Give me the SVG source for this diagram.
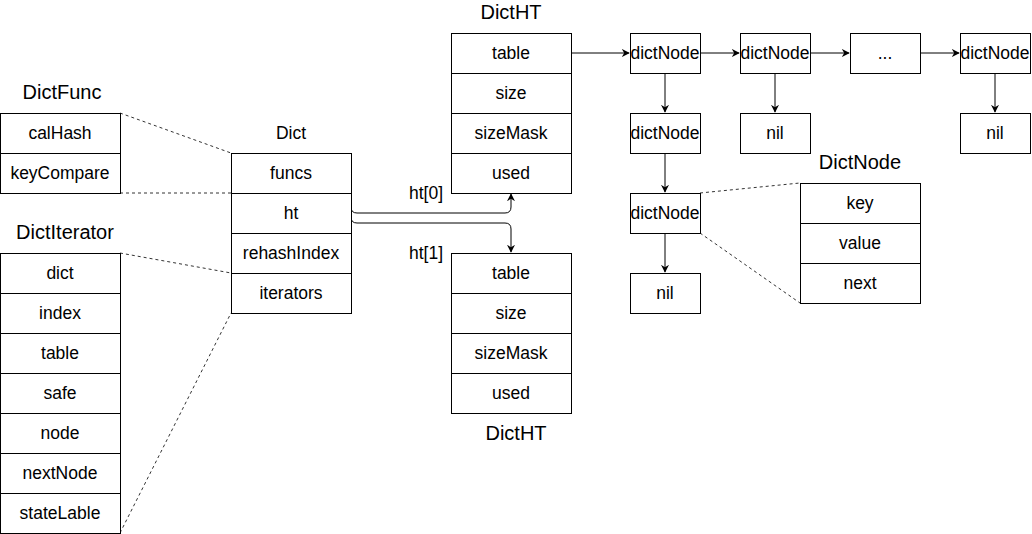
<svg xmlns="http://www.w3.org/2000/svg" width="1032" height="534" viewBox="0 0 1032 534">
<defs>
<style>
text{font-family:"Liberation Sans",Arial,sans-serif;fill:#000;text-anchor:middle;dominant-baseline:central}
.c{font-size:17.5px}
.t{font-size:20px}
.b{fill:#fff;stroke:#000;stroke-width:1}
.e{fill:none;stroke:#000;stroke-width:1}
.d{fill:none;stroke:#333;stroke-width:1;stroke-dasharray:3 3}
</style>
<marker id="a" viewBox="0 0 10 10" refX="9" refY="5" markerWidth="8" markerHeight="8" markerUnits="userSpaceOnUse" orient="auto">
<path d="M0,0 L10,5 L0,10 L3,5 Z" fill="#000"/>
</marker>
</defs>
<rect width="1032" height="534" fill="#fff"/>
<g id="connectors">
<path class="d" d="M120,113 L231,153"/>
<path class="d" d="M120,193 L231,193"/>
<path class="d" d="M120,253 L231,273"/>
<path class="d" d="M120,533 L231,313"/>
<path class="d" d="M700,193 L800,183"/>
<path class="d" d="M700,233 L800,303"/>
<path class="e" d="M351,207 Q351,213 357,213 L505,213 Q511,213 511,207 L511,194" marker-end="url(#a)"/>
<path class="e" d="M351,217 Q351,223 357,223 L505,223 Q511,223 511,229 L511,252" marker-end="url(#a)"/>
<path class="e" d="M571,53 L629,53" marker-end="url(#a)"/>
<path class="e" d="M700,53 L739,53" marker-end="url(#a)"/>
<path class="e" d="M810,53 L849,53" marker-end="url(#a)"/>
<path class="e" d="M920,53 L959,53" marker-end="url(#a)"/>
<path class="e" d="M665,73 L665,112" marker-end="url(#a)"/>
<path class="e" d="M775,73 L775,112" marker-end="url(#a)"/>
<path class="e" d="M995,73 L995,112" marker-end="url(#a)"/>
<path class="e" d="M665,153 L665,192" marker-end="url(#a)"/>
<path class="e" d="M665,233 L665,272" marker-end="url(#a)"/>
<text class="c" x="426" y="193">ht[0]</text>
<text class="c" x="426" y="253">ht[1]</text>
</g>
<g id="dictfunc">
<text class="t" x="62" y="92">DictFunc</text>
<rect class="b" x="0.5" y="113.5" width="120" height="40"/><text class="c" x="60" y="133">calHash</text>
<rect class="b" x="0.5" y="153.5" width="120" height="40"/><text class="c" x="60" y="173">keyCompare</text>
</g>
<g id="dict">
<text class="c" x="291" y="133">Dict</text>
<rect class="b" x="231.5" y="153.5" width="120" height="40"/><text class="c" x="291" y="173">funcs</text>
<rect class="b" x="231.5" y="193.5" width="120" height="40"/><text class="c" x="291" y="213">ht</text>
<rect class="b" x="231.5" y="233.5" width="120" height="40"/><text class="c" x="291" y="253">rehashIndex</text>
<rect class="b" x="231.5" y="273.5" width="120" height="40"/><text class="c" x="291" y="293">iterators</text>
</g>
<g id="dictiterator">
<text class="t" x="65" y="232">DictIterator</text>
<rect class="b" x="0.5" y="253.5" width="120" height="40"/><text class="c" x="60" y="273">dict</text>
<rect class="b" x="0.5" y="293.5" width="120" height="40"/><text class="c" x="60" y="313">index</text>
<rect class="b" x="0.5" y="333.5" width="120" height="40"/><text class="c" x="60" y="353">table</text>
<rect class="b" x="0.5" y="373.5" width="120" height="40"/><text class="c" x="60" y="393">safe</text>
<rect class="b" x="0.5" y="413.5" width="120" height="40"/><text class="c" x="60" y="433">node</text>
<rect class="b" x="0.5" y="453.5" width="120" height="40"/><text class="c" x="60" y="473">nextNode</text>
<rect class="b" x="0.5" y="493.5" width="120" height="40"/><text class="c" x="60" y="513">stateLable</text>
</g>
<g id="dictht0">
<text class="t" x="511" y="12">DictHT</text>
<rect class="b" x="451.5" y="33.5" width="120" height="40"/><text class="c" x="511" y="53">table</text>
<rect class="b" x="451.5" y="73.5" width="120" height="40"/><text class="c" x="511" y="93">size</text>
<rect class="b" x="451.5" y="113.5" width="120" height="40"/><text class="c" x="511" y="133">sizeMask</text>
<rect class="b" x="451.5" y="153.5" width="120" height="40"/><text class="c" x="511" y="173">used</text>
</g>
<g id="dictht1">
<rect class="b" x="451.5" y="253.5" width="120" height="40"/><text class="c" x="511" y="273">table</text>
<rect class="b" x="451.5" y="293.5" width="120" height="40"/><text class="c" x="511" y="313">size</text>
<rect class="b" x="451.5" y="333.5" width="120" height="40"/><text class="c" x="511" y="353">sizeMask</text>
<rect class="b" x="451.5" y="373.5" width="120" height="40"/><text class="c" x="511" y="393">used</text>
<text class="t" x="516" y="433">DictHT</text>
</g>
<g id="node1"><rect class="b" x="630.5" y="33.5" width="70" height="40"/><text class="c" x="665" y="53">dictNode</text></g>
<g id="node2"><rect class="b" x="740.5" y="33.5" width="70" height="40"/><text class="c" x="775" y="53">dictNode</text></g>
<g id="node3"><rect class="b" x="850.5" y="33.5" width="70" height="40"/><text class="c" x="885" y="53">...</text></g>
<g id="node4"><rect class="b" x="960.5" y="33.5" width="70" height="40"/><text class="c" x="995" y="53">dictNode</text></g>
<g id="node5"><rect class="b" x="630.5" y="113.5" width="70" height="40"/><text class="c" x="665" y="133">dictNode</text></g>
<g id="nil1"><rect class="b" x="740.5" y="113.5" width="70" height="40"/><text class="c" x="775" y="133">nil</text></g>
<g id="nil2"><rect class="b" x="960.5" y="113.5" width="70" height="40"/><text class="c" x="995" y="133">nil</text></g>
<g id="node6"><rect class="b" x="630.5" y="193.5" width="70" height="40"/><text class="c" x="665" y="213">dictNode</text></g>
<g id="nil3"><rect class="b" x="630.5" y="273.5" width="70" height="40"/><text class="c" x="665" y="293">nil</text></g>
<g id="dictnode">
<text class="t" x="860" y="162">DictNode</text>
<rect class="b" x="800.5" y="183.5" width="120" height="40"/><text class="c" x="860" y="203">key</text>
<rect class="b" x="800.5" y="223.5" width="120" height="40"/><text class="c" x="860" y="243">value</text>
<rect class="b" x="800.5" y="263.5" width="120" height="40"/><text class="c" x="860" y="283">next</text>
</g>
</svg>
